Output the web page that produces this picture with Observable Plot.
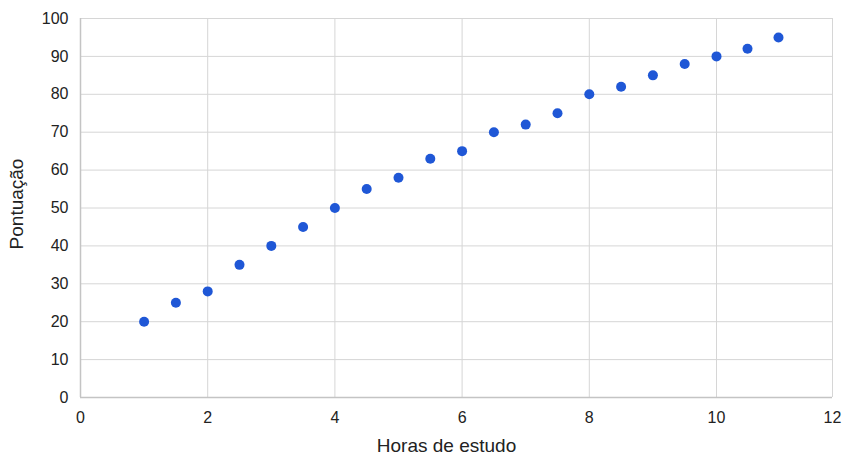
<!DOCTYPE html>
<html>
<head>
<meta charset="utf-8">
<script src="https://cdn.jsdelivr.net/npm/d3@7"></script>
<script src="https://cdn.jsdelivr.net/npm/@observablehq/plot@0.6"></script>
<style>
  html, body { margin: 0; padding: 0; background: #fff; }
  #chart svg { display: block; }
</style>
</head>
<body>
<div id="chart"></div>
<script>
const horas = [1, 1.5, 2, 2.5, 3, 3.5, 4, 4.5, 5, 5.5, 6, 6.5, 7, 7.5, 8, 8.5, 9, 9.5, 10, 10.5, 11];
const pontuacao = [20, 25, 28, 35, 40, 45, 50, 55, 58, 63, 65, 70, 72, 75, 80, 82, 85, 88, 90, 92, 95];
const xTicks = [0, 2, 4, 6, 8, 10, 12];
const yTicks = [0, 10, 20, 30, 40, 50, 60, 70, 80, 90, 100];
const xLabel = "Horas de estudo";
const yLabel = "Pontuação";

const data = horas.map((h, i) => ({horas: h, pontuacao: pontuacao[i]}));

const chart = Plot.plot({
  width: 846,
  height: 464,
  marginLeft: 80,
  marginRight: 14,
  marginTop: 18,
  marginBottom: 67,
  style: {fontFamily: "'Liberation Sans', Arial, sans-serif", fontSize: "16px", color: "#222", background: "#fff"},
  x: {type: "linear", domain: [0, 10, 11, 12], range: [80, 716, 778, 832]},
  y: {domain: [0, 100]},
  marks: [
    Plot.gridX(xTicks.slice(1), {stroke: "#d6d6d6", strokeOpacity: 1, strokeWidth: 1}),
    Plot.gridY(yTicks.slice(1), {stroke: "#d6d6d6", strokeOpacity: 1, strokeWidth: 1}),
    Plot.ruleX([0], {stroke: "#c4c4c4", strokeWidth: 1.5}),
    Plot.ruleY([0], {stroke: "#c4c4c4", strokeWidth: 1.5}),
    Plot.axisX(xTicks, {tickSize: 0, tickPadding: 14, fontSize: 16, label: null}),
    Plot.axisY(yTicks, {tickSize: 0, tickPadding: 12, fontSize: 16, label: null}),
    Plot.text([xLabel], {frameAnchor: "bottom", textAnchor: "middle", dy: 54, dx: -10, fontSize: 19, fill: "#222"}),
    Plot.text([yLabel], {frameAnchor: "left", textAnchor: "middle", dx: -64, dy: -4, rotate: -90, fontSize: 19, fill: "#222"}),
    Plot.dot(data, {x: "horas", y: "pontuacao", r: 5, fill: "#1f57d6", stroke: "none"})
  ]
});

document.getElementById("chart").append(chart);
</script>
</body>
</html>
